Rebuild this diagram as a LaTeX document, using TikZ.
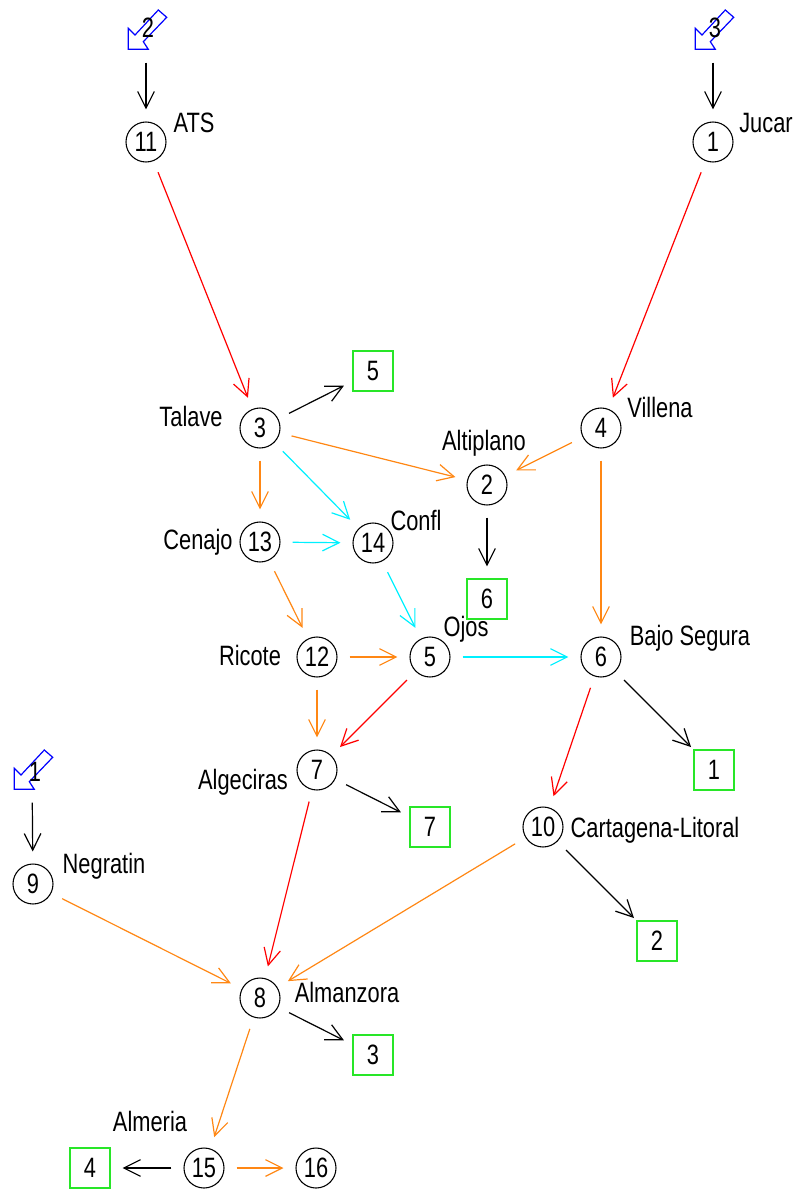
\documentclass[tikz,border=0pt]{standalone}
\usepackage{fontspec}
\setmainfont[FakeStretch=0.78]{Liberation Sans}
\usetikzlibrary{arrows.meta}
\definecolor{cred}{RGB}{255,0,0}
\definecolor{corange}{RGB}{255,135,20}
\definecolor{ccyan}{RGB}{0,240,255}
\definecolor{cgreen}{RGB}{40,230,40}
\definecolor{cblue}{RGB}{0,0,255}
\begin{document}
\begin{tikzpicture}[x=0.75pt,y=-0.75pt,
  font=\fontsize{21pt}{23pt}\selectfont,
  res/.style={circle,draw=black,line width=0.8pt,minimum size=30pt,inner sep=0pt},
  dem/.style={rectangle,draw=cgreen,line width=1pt,minimum size=30pt,inner sep=0pt},
  lbl/.style={anchor=base,inner sep=0pt},
  edge/.style={line width=0.9pt,-{Straight Barb[length=12.5pt,width=12.5pt]},shorten <=24.4pt,shorten >=24.4pt},
  icon/.style={draw=cblue,line width=0.9pt,line join=miter}]
\useasboundingbox (0,0) rectangle (796,1189);
% reservoir nodes
\node[res] (n11) at (146,142) {11};
\node[res] (n1) at (713,142) {1};
\node[res] (n3) at (260,428) {3};
\node[res] (n4) at (601,428) {4};
\node[res] (n2) at (487,485) {2};
\node[res] (n13) at (260,542) {13};
\node[res] (n14) at (373,543) {14};
\node[res] (n12) at (317,657) {12};
\node[res] (n5) at (430,657) {5};
\node[res] (n6) at (601,657) {6};
\node[res] (n7) at (317,770) {7};
\node[res] (n10) at (543,827) {10};
\node[res] (n9) at (33,884) {9};
\node[res] (n8) at (260,998) {8};
\node[res] (n15) at (204,1168) {15};
\node[res] (n16) at (316,1168) {16};
% demand boxes
\node[dem] (d5) at (373,371) {5};
\node[dem] (d6) at (487,599) {6};
\node[dem] (d1) at (714,770) {1};
\node[dem] (d7) at (430,827) {7};
\node[dem] (d2) at (657,941) {2};
\node[dem] (d3) at (373,1055) {3};
\node[dem] (d4) at (90,1168) {4};
% inflow icons
\coordinate (s2) at (146,30);
\coordinate (s3) at (713,30);
\coordinate (s1) at (32,770);
\foreach \c in {s2,s3,s1}{
  \draw[icon,shift={(\c)}] (-17.7,-1.7) -- (-11,5) -- (12.3,-20) -- (20.7,-12.7)
     -- (-2.7,11.7) -- (2.3,19.3) -- (-17.7,19.3) -- cycle;
}
\node[inner sep=0pt] (ls2) at (148,28) {2};
\node[inner sep=0pt] (ls3) at (715,28) {3};
\node[inner sep=0pt] (ls1) at (35,772) {1};
% labels
\node[lbl] (tATS) at (194,132) {ATS};
\node[lbl] (tJucar) at (766,132) {Jucar};
\node[lbl] (tTalave) at (191,426) {Talave};
\node[lbl] (tVillena) at (660,417) {Villena};
\node[lbl] (tAltiplano) at (484,450) {Altiplano};
\node[lbl] (tCenajo) at (198,549) {Cenajo};
\node[lbl] (tConfl) at (416,530) {Confl};
\node[lbl] (tRicote) at (250,665) {Ricote};
\node[lbl] (tOjos) at (466,636) {Ojos};
\node[lbl] (tBajo) at (690,645) {Bajo Segura};
\node[lbl] (tAlgeciras) at (243,789) {Algeciras};
\node[lbl] (tCartagena) at (655,837) {Cartagena-Litoral};
\node[lbl] (tNegratin) at (104,873) {Negratin};
\node[lbl] (tAlmanzora) at (347,1002) {Almanzora};
\node[lbl] (tAlmeria) at (150,1131) {Almeria};
% inflow connectors
\draw[edge] (s2) -- (n11.center);
\draw[edge] (s3) -- (n1.center);
\draw[edge] (s1) -- (n9.center);
% red
\draw[edge,cred] (n11.center) -- (n3.center);
\draw[edge,cred] (n1.center) -- (n4.center);
\draw[edge,cred] (n5.center) -- (n7.center);
\draw[edge,cred] (n6.center) -- (n10.center);
\draw[edge,cred] (n7.center) -- (n8.center);
% orange
\draw[edge,corange] (n3.center) -- (n2.center);
\draw[edge,corange] (n3.center) -- (n13.center);
\draw[edge,corange] (n4.center) -- (n2.center);
\draw[edge,corange] (n4.center) -- (n6.center);
\draw[edge,corange] (n13.center) -- (n12.center);
\draw[edge,corange] (n12.center) -- (n5.center);
\draw[edge,corange] (n12.center) -- (n7.center);
\draw[edge,corange] (n10.center) -- (n8.center);
\draw[edge,corange] (n9.center) -- (n8.center);
\draw[edge,corange] (n8.center) -- (n15.center);
\draw[edge,corange] (n15.center) -- (n16.center);
% cyan
\draw[edge,ccyan] (n3.center) -- (n14.center);
\draw[edge,ccyan] (n13.center) -- (n14.center);
\draw[edge,ccyan] (n14.center) -- (n5.center);
\draw[edge,ccyan] (n5.center) -- (n6.center);
% black to demands
\draw[edge] (n3.center) -- (d5.center);
\draw[edge] (n2.center) -- (d6.center);
\draw[edge] (n6.center) -- (d1.center);
\draw[edge] (n7.center) -- (d7.center);
\draw[edge] (n10.center) -- (d2.center);
\draw[edge] (n8.center) -- (d3.center);
\draw[edge] (n15.center) -- (d4.center);
\end{tikzpicture}
\end{document}
